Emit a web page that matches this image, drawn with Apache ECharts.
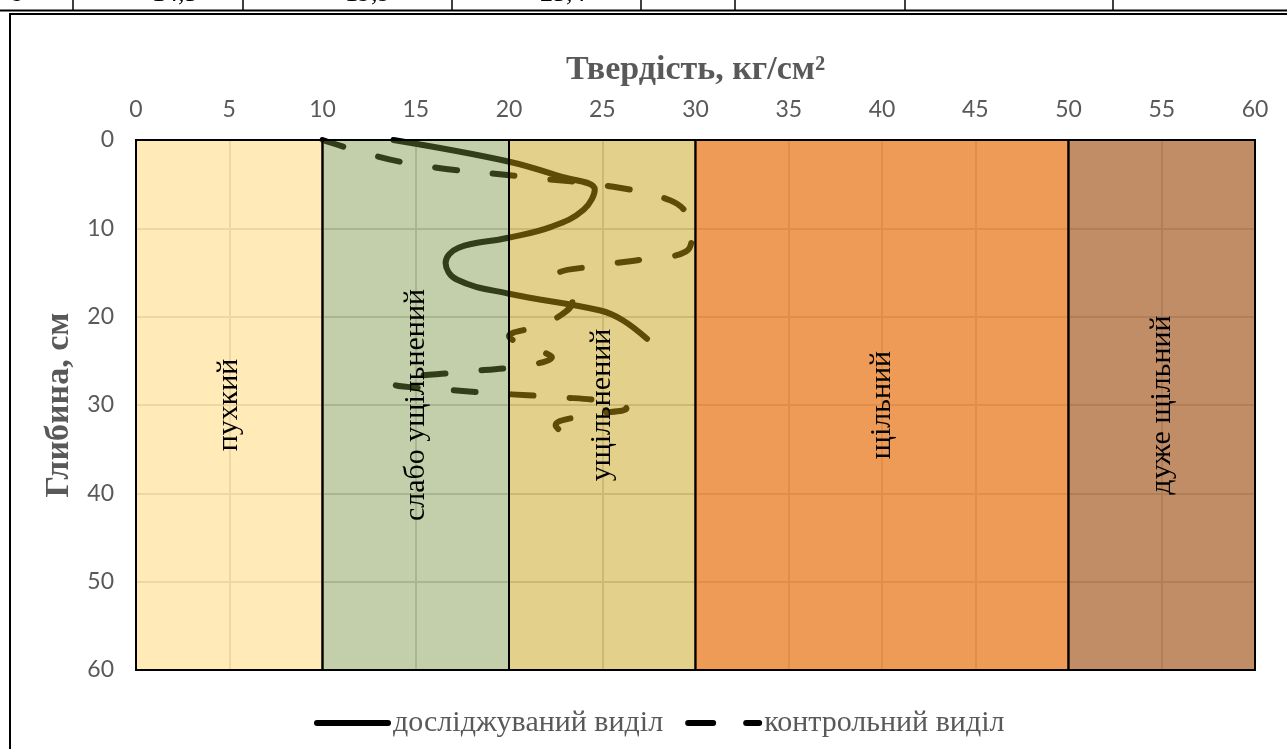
<!DOCTYPE html>
<html>
<head>
<meta charset="utf-8">
<script src="https://cdn.jsdelivr.net/npm/echarts@6/dist/echarts.min.js"></script>
<style>
html,body{margin:0;padding:0;background:#fff;}
#chart{width:1287px;height:749px;}
</style>
</head>
<body>
<div id="chart"></div>
<script>
// ---- data ----
const zoneBounds = [0, 10, 20, 30, 50, 60];
const zoneNames = ['пухкий', 'слабо ущільнений', 'ущільнений', 'щільний', 'дуже щільний'];
const zoneColors = ['rgba(255,217,126,0.55)', 'rgba(116,144,58,0.43)', 'rgba(197,157,11,0.48)', 'rgba(231,112,15,0.7)', 'rgba(160,80,20,0.65)'];

const seriesNames = ['досліджуваний виділ', 'контрольний виділ'];

// досліджуваний виділ: depth (cm) / hardness (kg/cm2)
const solidDepth = [0, 2.4, 4.1, 5.6, 7.9, 9.8, 11.1, 12.2, 13.9, 15.8, 17.4, 19.3, 20.4, 22.5];
const solidHard  = [13.8, 19.9, 22.7, 24.6, 24.0, 22.3, 19.9, 17.3, 16.6, 17.2, 20.0, 24.9, 26.1, 27.4];

// контрольний виділ
const dashDepth = [0, 2.6, 4.2, 5.3, 6.8, 8.5, 10.5, 12.6, 13.5, 14.2, 15.3, 16.8, 18.3, 19.8, 21.1, 22.2, 23.8, 24.6, 25.5, 26.3, 27.0, 27.6, 28.2, 28.7, 29.1, 29.7, 30.4, 31.1, 32.3, 34.2];
const dashHard  = [10.0, 14.5, 21.0, 25.6, 28.6, 29.6, 29.8, 29.5, 27.2, 24.9, 22.6, 23.1, 23.4, 22.8, 21.5, 20.0, 21.6, 22.3, 21.0, 17.3, 14.1, 13.8, 16.3, 19.4, 22.6, 25.6, 26.3, 24.3, 22.5, 23.8];

const xTicks = {min: 0, max: 60, interval: 5};
const yTicks = {min: 0, max: 60, interval: 10};

const tableFragments = [['8', 10], ['14,5', 152], ['19,9', 345], ['25,4', 540]];
const tableCols = [73, 243, 452, 641, 735, 905, 1113];

// ---- chart ----
const chart = echarts.init(document.getElementById('chart'));

const zoneData = [];
for (let i = 0; i < zoneNames.length; i++) zoneData.push([zoneBounds[i], zoneBounds[i + 1]]);

const graphics = [
  {type: 'rect', shape: {x: 10, y: 14, width: 1300, height: 800}, style: {fill: 'none', stroke: '#000', lineWidth: 2}, silent: true},
  {type: 'line', shape: {x1: 0, y1: 10.5, x2: 1287, y2: 10.5}, style: {stroke: '#000', lineWidth: 2}, silent: true}
];
tableCols.forEach(c => graphics.push({type: 'line', shape: {x1: c, y1: 0, x2: c, y2: 10}, style: {stroke: '#000', lineWidth: 1.5}, silent: true}));
tableFragments.forEach(f => graphics.push({type: 'text', left: f[1], top: -19, style: {text: f[0], font: '26px "Liberation Serif"', fill: '#000'}, silent: true}));

const solidIcon = 'path://M3,0 H74 A3,3 0 0 1 74,6 H3 A3,3 0 0 1 3,0 Z';
const dashIcon = 'path://M3,0 H28 A3,3 0 0 1 28,6 H3 A3,3 0 0 1 3,0 Z M61,0 H74 A3,3 0 0 1 74,6 H61 A3,3 0 0 1 61,0 Z';

chart.setOption({
  backgroundColor: '#fff',
  animation: false,
  graphic: graphics,
  grid: {left: 136, right: 32, top: 140, bottom: 79, containLabel: false},
  legend: {
    data: [{name: seriesNames[0], icon: solidIcon}, {name: seriesNames[1], icon: dashIcon}],
    top: 703,
    left: 309,
    itemWidth: 77,
    itemHeight: 6,
    itemGap: 22,
    itemStyle: {color: '#000', borderWidth: 0},
    lineStyle: {width: 0},
    textStyle: {fontFamily: '"Liberation Serif"', fontSize: 30, color: '#595959', padding: [0, 0, 0, -3]}
  },
  xAxis: {
    type: 'value', position: 'top',
    min: xTicks.min, max: xTicks.max, interval: xTicks.interval,
    name: 'Твердість, кг/см²', nameLocation: 'middle', nameGap: 53,
    nameTextStyle: {fontFamily: '"Liberation Serif"', fontWeight: 'bold', fontSize: 34, color: '#595959'},
    axisLine: {show: false}, axisTick: {show: false},
    axisLabel: {fontFamily: 'Lato', fontSize: 23, color: '#595959', margin: 19},
    splitLine: {show: true, lineStyle: {color: '#D4D4D4', width: 2}}
  },
  yAxis: {
    type: 'value', inverse: true,
    min: yTicks.min, max: yTicks.max, interval: yTicks.interval,
    name: 'Глибина, см', nameLocation: 'middle', nameGap: 50, nameRotate: 90,
    nameTextStyle: {fontFamily: '"Liberation Serif"', fontWeight: 'bold', fontSize: 34, color: '#595959'},
    axisLine: {show: false}, axisTick: {show: false},
    axisLabel: {fontFamily: 'Lato', fontSize: 23, color: '#595959', margin: 22},
    splitLine: {show: true, lineStyle: {color: '#D4D4D4', width: 2}}
  },
  series: [
    {
      name: seriesNames[0], type: 'line', z: 2,
      data: solidHard.map((v, i) => [v, solidDepth[i]]),
      smooth: 0.4, symbol: 'none', showSymbol: false,
      color: '#000',
      lineStyle: {color: '#000', width: 6, cap: 'round', join: 'round'}
    },
    {
      name: seriesNames[1], type: 'line', z: 2,
      data: dashHard.map((v, i) => [v, dashDepth[i]]),
      smooth: 0.4, symbol: 'none', showSymbol: false,
      color: '#000',
      lineStyle: {color: '#000', width: 6, type: [22, 36], cap: 'round', join: 'round'}
    },
    {
      type: 'custom', z: 5, silent: true,
      data: zoneData,
      encode: {x: [0, 1]},
      renderItem: function (params, api) {
        const i = params.dataIndex;
        const p0 = api.coord([api.value(0), yTicks.min]);
        const p1 = api.coord([api.value(1), yTicks.max]);
        const cx = (p0[0] + p1[0]) / 2, cy = (p0[1] + p1[1]) / 2;
        return {
          type: 'group',
          children: [
            {type: 'rect', shape: {x: p0[0], y: p0[1], width: p1[0] - p0[0], height: p1[1] - p0[1]},
             style: {fill: zoneColors[i], stroke: '#000', lineWidth: 2}},
            {type: 'text', x: cx, y: cy, rotation: Math.PI / 2,
             style: {text: zoneNames[i], x: 0, y: 0, align: 'center', verticalAlign: 'middle',
                     font: '30px "Liberation Serif"', fill: '#000'}}
          ]
        };
      }
    }
  ]
});
</script>
</body>
</html>
